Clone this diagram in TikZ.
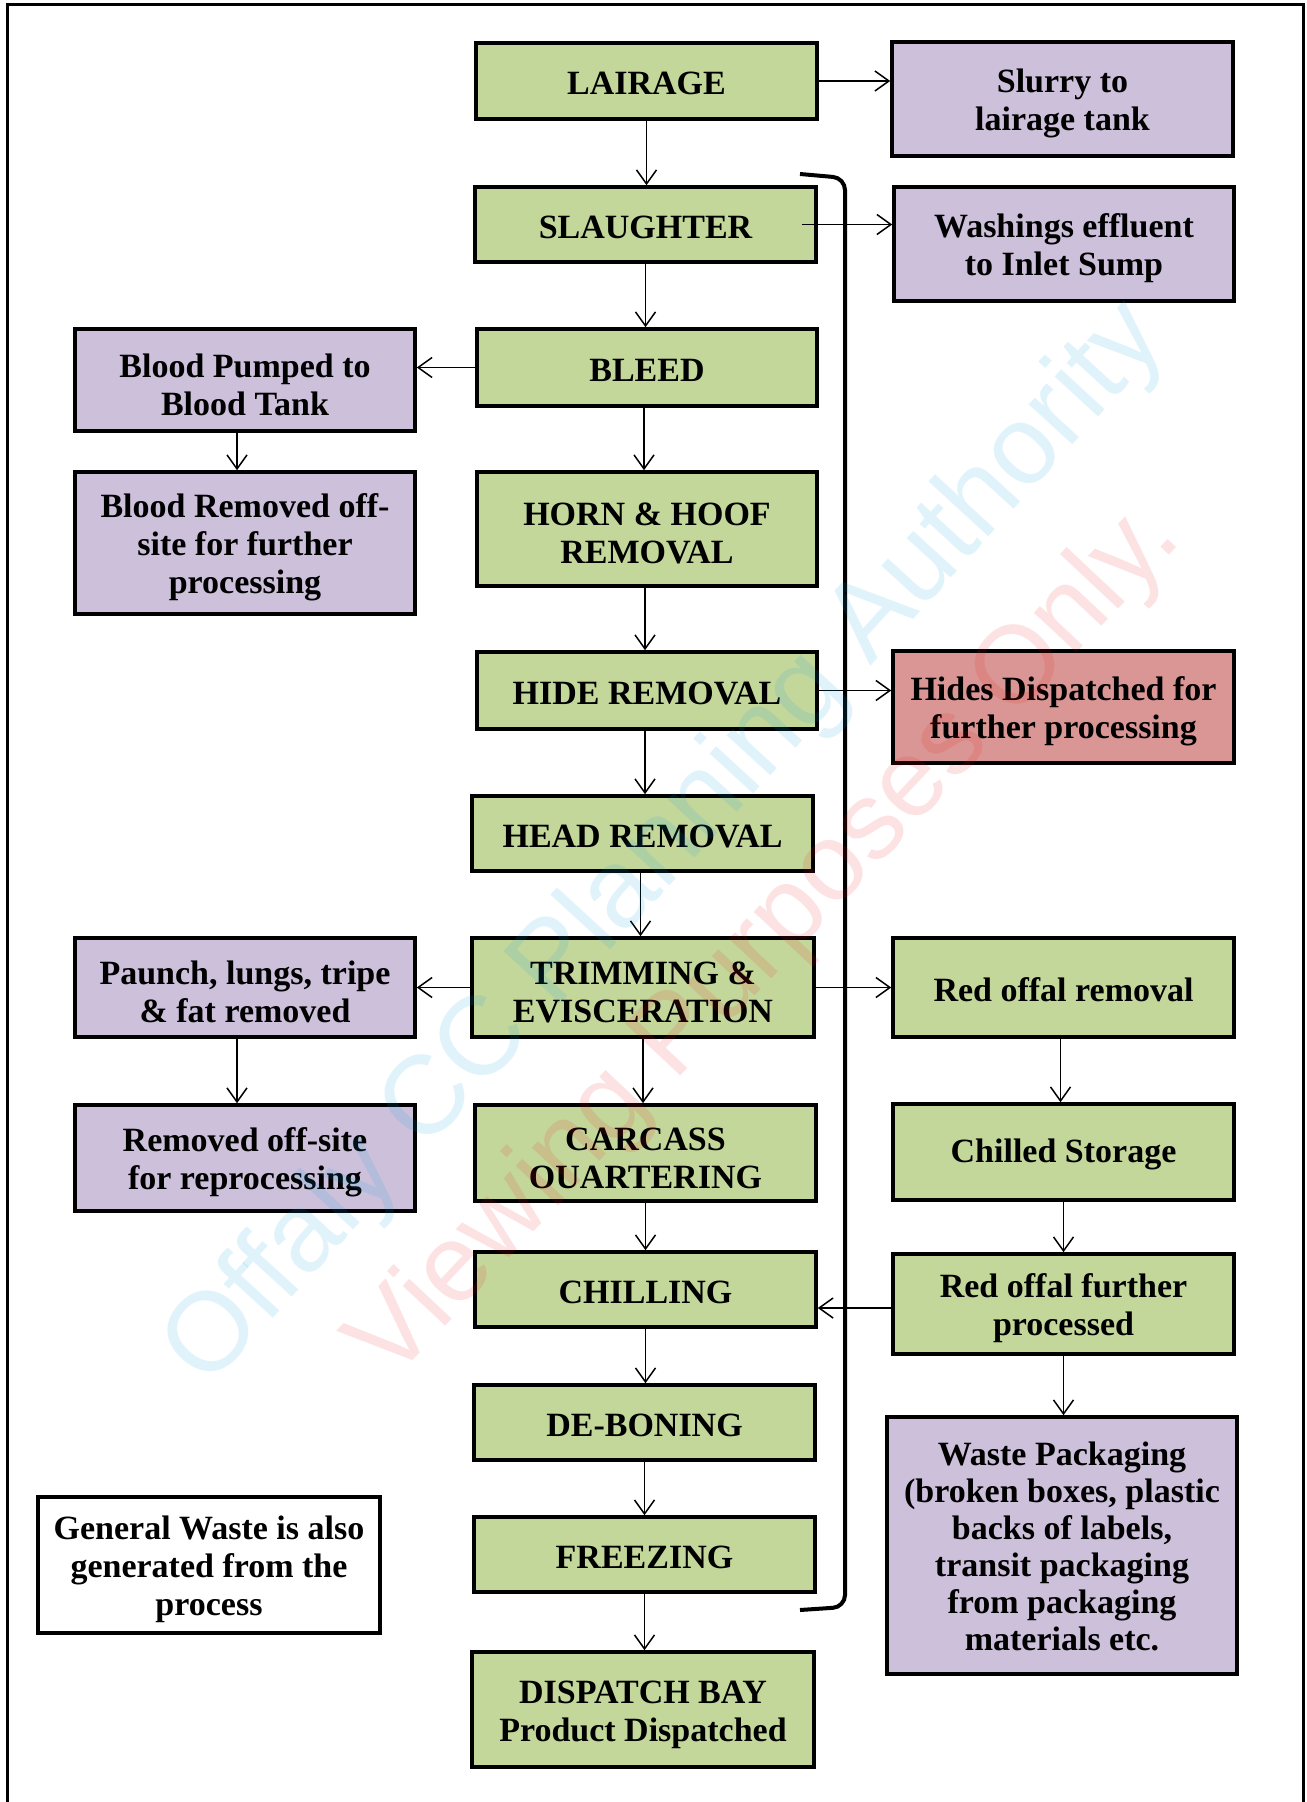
\documentclass[tikz,border=0pt]{standalone}
\usepackage{fontspec}
\setmainfont{Liberation Serif}
\setsansfont{Liberation Sans}
\usetikzlibrary{arrows.meta}
\definecolor{boxgreen}{RGB}{196,215,155}
\definecolor{boxpurple}{RGB}{204,192,218}
\definecolor{boxred}{RGB}{218,150,148}
\definecolor{wmblue}{RGB}{0,160,230}
\definecolor{wmred}{RGB}{235,20,20}
\newcommand{\myStrutA}{\rule{0pt}{14.1pt}}
\newcommand{\myStrutB}{\rule{0pt}{16.2pt}}
\newcommand{\myStrutC}{\rule{0pt}{12.8pt}}
\begin{document}
\begin{tikzpicture}[x=0.5pt,y=-0.5pt,
  box/.style={draw=black, line width=1.8pt, inner sep=0pt, align=center,
    font=\fontsize{17}{19}\selectfont\bfseries, text=black},
  gbox/.style={box, fill=boxgreen},
  pbox/.style={box, fill=boxpurple},
  rbox/.style={box, fill=boxred},
  wbox/.style={box, fill=white},
  flow/.style={-{Straight Barb[length=7pt,width=10pt]}, line width=0.75pt},
  wmark/.style={inner sep=0pt, anchor=base west, text opacity=0.12,
    font=\sffamily\fontsize{56}{56}\selectfont},
]
\useasboundingbox (0,0) rectangle (1306,1802);
\fill[white] (0,0) rectangle (1306,1802);
% frame
\draw[line width=1.5pt] (7,1802) -- (7,5) -- (1303,5) -- (1303,1802);

% main column
\node[gbox, minimum width=170.5pt, minimum height=38pt] (lair) at (646.5,81) {\myStrutA LAIRAGE};
\node[gbox, minimum width=170.5pt, minimum height=37.5pt] (slau) at (645.5,224.5) {\myStrutA SLAUGHTER};
\node[gbox, minimum width=170pt, minimum height=38.5pt] (bleed) at (647,367.5) {\myStrutA BLEED};
\node[gbox, minimum width=170pt, minimum height=57pt] (horn) at (647,529) {\myStrutB HORN \& HOOF\\REMOVAL};
\node[gbox, minimum width=170pt, minimum height=38.5pt] (hide) at (647,690.5) {\myStrutA HIDE REMOVAL};
\node[gbox, minimum width=170.5pt, minimum height=37.5pt] (head) at (642.5,833.5) {\myStrutA HEAD REMOVAL};
\node[gbox, minimum width=171pt, minimum height=49.5pt] (trim) at (643,987.5) {\myStrutB TRIMMING \&\\EVISCERATION};
\node[gbox, minimum width=170.5pt, minimum height=48pt] (carc) at (645.5,1153) {\myStrutB CARCASS\\OUARTERING};
\node[gbox, minimum width=170.5pt, minimum height=37.5pt] (chill) at (645.5,1289.5) {\myStrutA CHILLING};
\node[gbox, minimum width=170.5pt, minimum height=37.5pt] (debon) at (644.5,1422.5) {\myStrutA DE-BONING};
\node[gbox, minimum width=170.5pt, minimum height=37.5pt] (freez) at (644.5,1554.5) {\myStrutA FREEZING};
\node[gbox, minimum width=171pt, minimum height=57.5pt] (disp) at (643,1709.5) {\myStrutB DISPATCH BAY\\Product Dispatched};

% left column
\node[pbox, minimum width=170pt, minimum height=51pt] (bpump) at (245,380) {\myStrutB Blood Pumped to\\Blood Tank};
\node[pbox, minimum width=170pt, minimum height=71pt] (bremo) at (245,543) {\myStrutB Blood Removed off-\\site for further\\processing};
\node[pbox, minimum width=170pt, minimum height=49.5pt] (paunch) at (245,987.5) {\myStrutB Paunch, lungs, tripe\\\& fat removed};
\node[pbox, minimum width=170pt, minimum height=53pt] (remof) at (245,1158) {\myStrutB Removed off-site\\for reprocessing};
\node[wbox, minimum width=171pt, minimum height=68pt] (genw) at (209,1565) {\myStrutB General Waste is also\\generated from the\\process};

% right column
\node[pbox, minimum width=170.5pt, minimum height=57pt] (slurry) at (1062.5,99) {\myStrutB Slurry to\\lairage tank};
\node[pbox, minimum width=170pt, minimum height=57pt] (wash) at (1064,244) {\myStrutB Washings effluent\\to Inlet Sump};
\node[rbox, minimum width=170.5pt, minimum height=56pt] (hides) at (1063.5,707) {\myStrutB Hides Dispatched for\\further processing};
\node[gbox, minimum width=170.5pt, minimum height=49.5pt] (roff) at (1063.5,987.5) {\myStrutA Red offal removal};
\node[gbox, minimum width=170.5pt, minimum height=48pt] (chst) at (1063.5,1152) {\myStrutA Chilled Storage};
\node[gbox, minimum width=170.5pt, minimum height=50pt] (rofp) at (1063.5,1304) {\myStrutB Red offal further\\processed};
\node[pbox, minimum width=175pt, minimum height=128.5pt, font=\fontsize{17}{18.5}\selectfont\bfseries] (wpack) at (1062,1545.5) {\myStrutC Waste Packaging\\(broken boxes, plastic\\backs of labels,\\transit packaging\\from packaging\\materials etc.};

% bracket
\draw[line width=2pt, rounded corners=6pt] (800,174) -- (845,178) -- (845,1607) -- (800,1610);

% connectors
\draw[flow] (lair.south) -- (lair.south |- slau.north);
\draw[flow] (lair.east) -- (lair.east -| slurry.west);
\draw[flow] ([xshift=-8pt]slau.east) -- (slau.east -| wash.west);
\draw[flow] (slau.south) -- (slau.south |- bleed.north);
\draw[flow] (bleed.west) -- (bleed.west -| bpump.east);
\draw[flow] ([xshift=-4pt]bpump.south) -- ([xshift=-4pt]bremo.north);
\draw[flow] ([xshift=-1.5pt]bleed.south) -- ([xshift=-1.5pt]horn.north);
\draw[flow] ([xshift=-1pt]horn.south) -- ([xshift=-1pt]hide.north);
\draw[flow] (hide.east) -- (hide.east -| hides.west);
\draw[flow] ([xshift=-1pt]hide.south) -- ([xshift=-1pt]hide.south |- head.north);
\draw[flow] ([xshift=-1pt]head.south) -- ([xshift=-1pt]head.south |- trim.north);
\draw[flow] (trim.west) -- (trim.west -| paunch.east);
\draw[flow] (trim.east) -- (trim.east -| roff.west);
\draw[flow] ([xshift=-4pt]paunch.south) -- ([xshift=-4pt]remof.north);
\draw[flow] (trim.south) -- (trim.south |- carc.north);
\draw[flow] ([xshift=-1.5pt]roff.south) -- ([xshift=-1.5pt]chst.north);
\draw[flow] (carc.south) -- (carc.south |- chill.north);
\draw[flow] (chst.south) -- (chst.south |- rofp.north);
\draw[flow] ([yshift=-2pt]rofp.west) -- ([yshift=-2pt]rofp.west -| chill.east);
\draw[flow] (chill.south) -- (chill.south |- debon.north);
\draw[flow] (rofp.south) -- (rofp.south |- wpack.north);
\draw[flow] (debon.south) -- (debon.south |- freez.north);
\draw[flow] (freez.south) -- (freez.south |- disp.north);

% watermarks
\node[wmark, text=wmblue, rotate=47.5] (wm1) at (207,1390) {Offaly CC Planning Authority};
\node[wmark, text=wmred, rotate=46.8, font=\sffamily\fontsize{55}{55}\selectfont] (wm2) at (391,1384) {Viewing Purposes Only.};
\end{tikzpicture}
\end{document}
